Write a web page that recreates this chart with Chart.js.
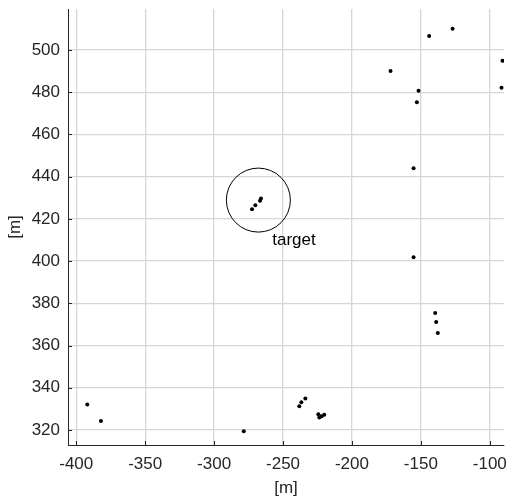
<!DOCTYPE html>
<html>
<head>
<meta charset="utf-8">
<script src="https://cdn.jsdelivr.net/npm/chart.js@4/dist/chart.umd.min.js"></script>
<style>
    html, body { margin: 0; padding: 0; background: #fff; }
    #wrap { width: 508px; height: 499px; }
</style>
</head>
<body>
<div id="wrap"><canvas id="c" width="508" height="499"></canvas></div>
<script>
// Detected points [m]
const pointsX = [-172, -144, -127, -90.8, -91.5, -151.7, -152.9, -155.3, -155.3, -139.6, -138.9, -137.7,
    -272.5, -270.1, -266.7, -266, -278.5, -238.2, -236.7, -233.8, -224.4, -223.7, -222, -220.1, -392, -382.1];
const pointsY = [490, 506.6, 510.1, 494.9, 482.1, 480.7, 475.2, 444, 401.8, 375.4, 371.2, 366,
    424.5, 426.5, 428.6, 429.7, 319.4, 331.3, 333.1, 334.9, 327.5, 325.9, 326.5, 327.2, 332.1, 324.3];

// Target marker
const targetX = [-267.9];
const targetY = [428.9];
const targetLabel = 'target';
const labelX = -257.8;
const labelY = 410;

// Axis ticks
const xTicks = [-400, -350, -300, -250, -200, -150, -100];
const yTicks = [320, 340, 360, 380, 400, 420, 440, 460, 480, 500];

const axisColor = '#262626';
const gridColor = '#d6d6d6';
const fontFamily = 'Arial, "Liberation Sans", sans-serif';

function noPad(s) {
    s.paddingTop = 0;
    s.paddingBottom = 0;
    s.paddingLeft = 0;
    s.paddingRight = 0;
}

// inward tick marks + target label
const extrasPlugin = {
    id: 'extras',
    afterDraw(chart) {
        const ctx = chart.ctx;
        const xs = chart.scales.x, ys = chart.scales.y;
        const area = chart.chartArea;
        ctx.save();
        ctx.strokeStyle = axisColor;
        ctx.lineWidth = 1;
        ctx.beginPath();
        xTicks.forEach(v => {
            const px = Math.round(xs.getPixelForValue(v)) + 0.5;
            ctx.moveTo(px, area.bottom);
            ctx.lineTo(px, area.bottom - 4);
        });
        yTicks.forEach(v => {
            const py = Math.round(ys.getPixelForValue(v)) + 0.5;
            ctx.moveTo(area.left, py);
            ctx.lineTo(area.left + 4, py);
        });
        ctx.stroke();

        ctx.fillStyle = '#000';
        ctx.font = '17px ' + fontFamily;
        ctx.textAlign = 'left';
        ctx.textBaseline = 'middle';
        ctx.fillText(targetLabel, xs.getPixelForValue(labelX), ys.getPixelForValue(labelY));
        ctx.restore();
    }
};

new Chart(document.getElementById('c'), {
    type: 'scatter',
    data: {
        datasets: [{
            data: pointsX.map((x, i) => ({ x: x, y: pointsY[i] })),
            backgroundColor: '#000',
            borderColor: '#000',
            pointRadius: 2,
            pointBorderWidth: 0
        }, {
            data: targetX.map((x, i) => ({ x: x, y: targetY[i] })),
            backgroundColor: 'rgba(0,0,0,0)',
            borderColor: '#000',
            pointRadius: 32,
            pointBorderWidth: 1
        }]
    },
    options: {
        responsive: false,
        animation: false,
        events: [],
        layout: { autoPadding: false, padding: { top: 9, right: 4, left: 0, bottom: 0 } },
        plugins: {
            legend: { display: false },
            tooltip: { enabled: false }
        },
        scales: {
            x: {
                type: 'linear',
                min: -406,
                max: -89.7,
                afterBuildTicks: s => { s.ticks = xTicks.map(v => ({ value: v })); },
                afterFit: s => { s.height = 54; noPad(s); },
                grid: { color: gridColor, lineWidth: 1.3, drawTicks: false },
                border: { color: axisColor, width: 1 },
                ticks: { color: axisColor, font: { family: fontFamily, size: 17 }, padding: 9, maxRotation: 0 },
                title: { display: true, text: '[m]', color: axisColor, font: { family: fontFamily, size: 17 }, padding: { top: 2, bottom: 0 } }
            },
            y: {
                type: 'linear',
                min: 312.9,
                max: 519.4,
                afterBuildTicks: s => { s.ticks = yTicks.map(v => ({ value: v })); },
                afterFit: s => { s.width = 68; noPad(s); },
                grid: { color: gridColor, lineWidth: 1.3, drawTicks: false },
                border: { color: axisColor, width: 1 },
                ticks: { color: axisColor, font: { family: fontFamily, size: 17 }, padding: 8 },
                title: { display: true, text: '[m]', color: axisColor, font: { family: fontFamily, size: 17 }, padding: { top: 5, bottom: 0 } }
            }
        }
    },
    plugins: [extrasPlugin]
});
</script>
</body>
</html>
